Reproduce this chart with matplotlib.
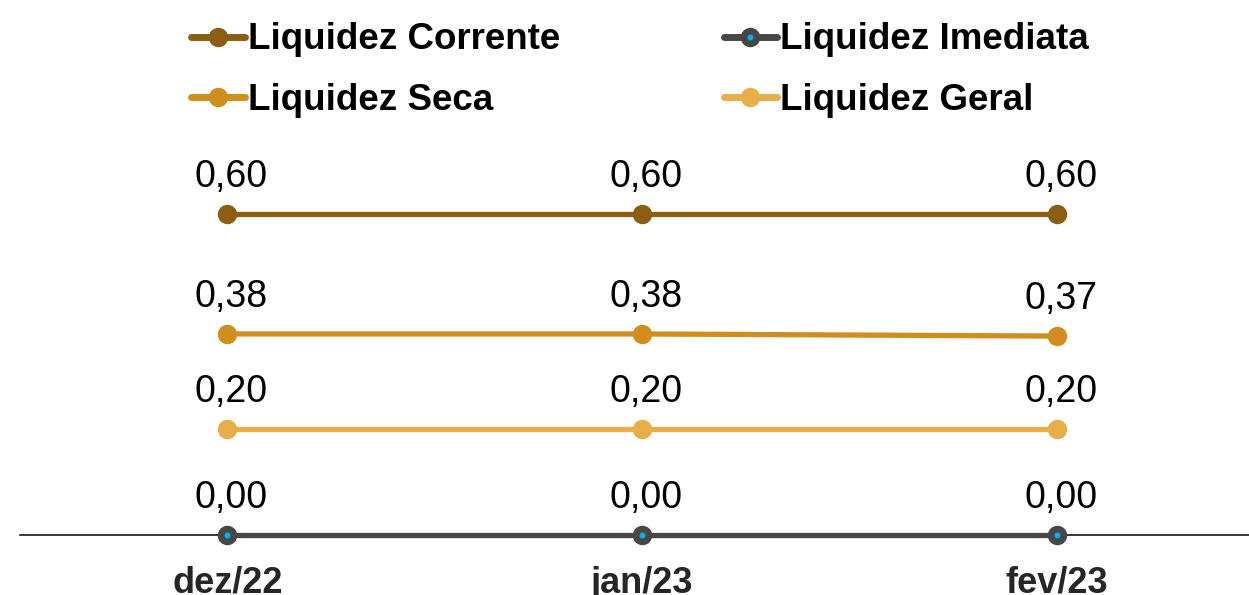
import matplotlib
matplotlib.use('agg')
import matplotlib.pyplot as plt

months = ['dez/22', 'jan/23', 'fev/23']
corrente = [0.60, 0.60, 0.60]
imediata = [0.00, 0.00, 0.00]
seca = [0.376, 0.376, 0.372]
geral = [0.198, 0.198, 0.198]

plt.rcParams['font.family'] = ['Liberation Sans', 'DejaVu Sans']

fig = plt.figure(figsize=(12.49, 5.95), dpi=100)
ax = fig.add_axes([20 / 1249, 60 / 595, 1244 / 1249, 385 / 595])

x = list(range(len(months)))
series = [
    ('Liquidez Corrente', corrente, '#8B5E14'),
    ('Liquidez Imediata', imediata, '#474747'),
    ('Liquidez Seca', seca, '#D08E1F'),
    ('Liquidez Geral', geral, '#E8AE47'),
]

for name, vals, color in series:
    if name == 'Liquidez Imediata':
        ax.plot(x, vals, color=color, lw=3.8, marker='o', ms=9.2,
                mfc='#00B0F0', mec=color, mew=4.8, label=name, zorder=4,
                clip_on=False, solid_capstyle='round')
    else:
        ax.plot(x, vals, color=color, lw=3.8, marker='o', ms=14,
                mfc=color, mec=color, mew=0, label=name, zorder=3,
                clip_on=False, solid_capstyle='round')
    for xi, v in zip(x, vals):
        ax.annotate(f'{v:.2f}'.replace('.', ','), (xi, v), xytext=(3, 14),
                    textcoords='offset points', ha='center', va='bottom',
                    fontsize=27, color='black')

ax.set_xlim(-0.5, 2.5)
ax.set_ylim(0, 0.72)
ax.set_xticks(x)
ax.set_xticklabels(months, fontsize=26, fontweight='bold', color='#262626')
ax.tick_params(axis='x', length=0, pad=22)
ax.set_yticks([])
for s in ['top', 'right', 'left']:
    ax.spines[s].set_visible(False)
ax.spines['bottom'].set_linewidth(1.1)
ax.spines['bottom'].set_color('black')

handles, labels = ax.get_legend_handles_labels()
order = [0, 2, 1, 3]
leg = fig.legend([handles[i] for i in order], [labels[i] for i in order],
                 loc='upper center', bbox_to_anchor=(640 / 1249, 1.018), ncol=2,
                 frameon=False, prop={'size': 26.5, 'weight': 'bold'},
                 handlelength=1.45, handletextpad=0.08, columnspacing=4.45,
                 labelspacing=0.7)
for h in leg.legend_handles:
    h.set_linewidth(5)

fig.savefig('out.png', dpi=100)
